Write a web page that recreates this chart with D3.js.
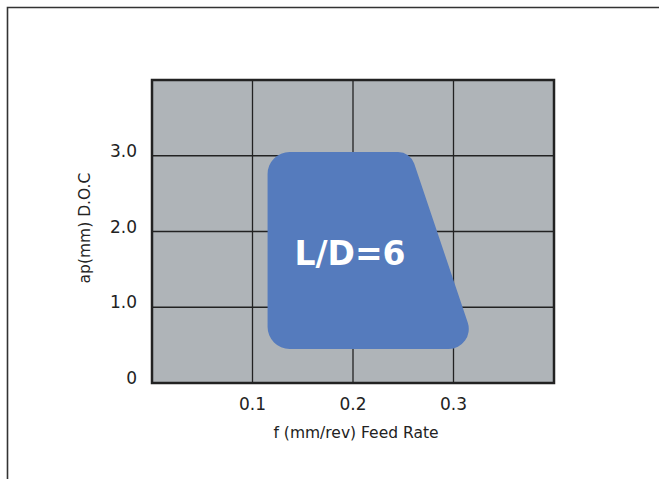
<!DOCTYPE html>
<html>
<head>
<meta charset="utf-8">
<script src="https://cdn.jsdelivr.net/npm/d3@7"></script>
<style>
  body { margin: 0; background: #fff; }
  svg { display: block; }
</style>
</head>
<body>
<div id="plot"></div>
<script>
// chart values
var xTicks = [0.1, 0.2, 0.3];
var yTicks = [0, 1.0, 2.0, 3.0];
var xGrid = [0.1, 0.2, 0.3];
var yGrid = [1.0, 2.0, 3.0];
// operating window corners (f, ap), clockwise from top-left
var regionFeed = [0.115, 0.257, 0.323, 0.115];
var regionDoc = [3.05, 3.05, 0.45, 0.45];
var regionLabel = "L/D=6";

var svgWidth = 659, svgHeight = 479;
var margin = { top: 80, right: 105, bottom: 96, left: 152 };
var width = svgWidth - margin.left - margin.right;
var height = svgHeight - margin.top - margin.bottom;

var svg = d3.select("#plot").append("svg")
    .attr("width", svgWidth)
    .attr("height", svgHeight);

// outer frame (top and left only)
svg.append("path")
    .attr("d", "M7.5,479 L7.5,7.5 L659,7.5")
    .attr("fill", "none")
    .attr("stroke", "#333")
    .attr("stroke-width", 1.6);

var chartGroup = svg.append("g")
    .attr("transform", `translate(${margin.left}, ${margin.top})`);

var xScale = d3.scaleLinear().domain([0, 0.4]).range([0, width]);
var yScale = d3.scaleLinear().domain([0, 4]).range([height, 0]);

// background
chartGroup.append("rect")
    .attr("width", width)
    .attr("height", height)
    .attr("fill", "#afb4b8");

// grid
chartGroup.selectAll(".vgrid").data(xGrid).enter().append("line")
    .attr("x1", d => xScale(d)).attr("x2", d => xScale(d))
    .attr("y1", 0).attr("y2", height)
    .attr("stroke", "#222").attr("stroke-width", 1.3);
chartGroup.selectAll(".hgrid").data(yGrid).enter().append("line")
    .attr("y1", d => yScale(d)).attr("y2", d => yScale(d))
    .attr("x1", 0).attr("x2", width)
    .attr("stroke", "#222").attr("stroke-width", 1.3);

// rounded region
var pts = regionFeed.map((f, i) => [xScale(f), yScale(regionDoc[i])]);
var radii = [22, 17, 20, 22];
var p = d3.path();
var n = pts.length;
var start = [(pts[n - 1][0] + pts[0][0]) / 2, (pts[n - 1][1] + pts[0][1]) / 2];
p.moveTo(start[0], start[1]);
for (var i = 0; i < n; i++) {
    var c = pts[i], nx = pts[(i + 1) % n];
    p.arcTo(c[0], c[1], nx[0], nx[1], radii[i]);
}
p.closePath();
chartGroup.append("path")
    .attr("d", p.toString())
    .attr("fill", "#557bbd");

chartGroup.append("text")
    .attr("x", xScale(0.197))
    .attr("y", yScale(1.56))
    .attr("text-anchor", "middle")
    .attr("font-family", "DejaVu Sans, sans-serif")
    .attr("font-weight", "bold")
    .attr("font-size", "33px")
    .attr("fill", "#fff")
    .text(regionLabel);

// plot border
chartGroup.append("rect")
    .attr("width", width)
    .attr("height", height)
    .attr("fill", "none")
    .attr("stroke", "#222")
    .attr("stroke-width", 2.5);

// tick labels
chartGroup.selectAll(".xtick").data(xTicks).enter().append("text")
    .attr("x", d => xScale(d))
    .attr("y", height + 27)
    .attr("text-anchor", "middle")
    .attr("font-family", "DejaVu Sans, sans-serif")
    .attr("font-size", "17px")
    .attr("fill", "#222")
    .text(d => d3.format(".1f")(d));

chartGroup.selectAll(".ytick").data(yTicks).enter().append("text")
    .attr("x", -15)
    .attr("y", d => yScale(d) + 1)
    .attr("text-anchor", "end")
    .attr("font-family", "DejaVu Sans, sans-serif")
    .attr("font-size", "17px")
    .attr("fill", "#222")
    .text(d => d === 0 ? "0" : d3.format(".1f")(d));

// axis titles
chartGroup.append("text")
    .attr("x", 204)
    .attr("y", height + 55)
    .attr("text-anchor", "middle")
    .attr("font-family", "DejaVu Sans, sans-serif")
    .attr("font-size", "15.5px")
    .attr("fill", "#222")
    .text("f (mm/rev) Feed Rate");

chartGroup.append("text")
    .attr("transform", "rotate(-90)")
    .attr("x", -148)
    .attr("y", -62)
    .attr("text-anchor", "middle")
    .attr("font-family", "DejaVu Sans, sans-serif")
    .attr("font-size", "15.5px")
    .attr("fill", "#222")
    .text("ap(mm) D.O.C");
</script>
</body>
</html>
